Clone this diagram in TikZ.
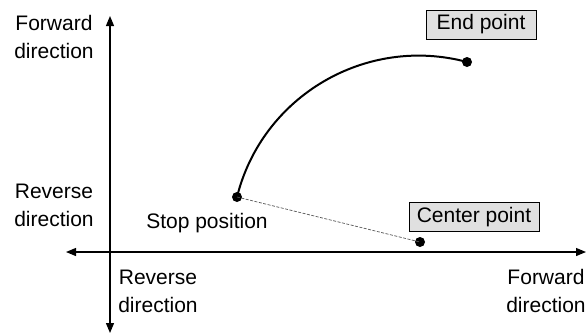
\documentclass[tikz,border=0pt]{standalone}
\usepackage{fontspec}
\setmainfont{Liberation Sans}
\usetikzlibrary{arrows.meta,positioning}
\definecolor{mvBox}{HTML}{E0E0E0}
\definecolor{mvDash}{HTML}{555555}
\tikzset{
    >={Triangle[length=10pt,width=8pt]},
    axis/.style={<->, line width=1.2pt, draw=black},
    lbl/.style={align=center, font=\fontsize{21}{28}\selectfont, inner sep=0pt},
    dot/.style={circle, fill=black, inner sep=0pt, minimum size=10pt},
    tagbox/.style={draw=black, line width=1pt, fill=mvBox, font=\fontsize{21}{24}\selectfont, minimum height=29pt, inner xsep=5pt},
    track/.style={line width=2pt, draw=black},
    radius/.style={line width=0.7pt, dashed, dash pattern=on 3pt off 1.5pt, draw=mvDash}
}
\begin{document}
\begin{tikzpicture}[x=1pt, y=-1pt]
    \useasboundingbox (0,0) rectangle (587,333);
    % axes
    \coordinate (vtop) at (110,16);
    \coordinate (vbot) at (110,333);
    \coordinate (hleft) at (66,252);
    \coordinate (hright) at (586,252);
    \draw[axis] (vbot) -- (vtop);
    \draw[axis] (hleft) -- (hright);
    % direction labels
    \node[lbl] (yfwd) at (54,37) {Forward\\direction};
    \node[lbl] (yrev) at (54,205) {Reverse\\direction};
    \node[lbl] (xrev) at (158,291) {Reverse\\direction};
    \node[lbl] (xfwd) at (546,291) {Forward\\direction};
    % points
    \node[dot] (stop) at (237,197) {};
    \node[dot] (end) at (467,62) {};
    \node[dot] (ctr) at (420,242) {};
    \node[lbl] (stoplbl) at (207,223) {Stop position};
    \node[tagbox, minimum width=110pt] (endlbl) at (481,24.5) {End point};
    \node[tagbox, minimum width=130pt] (ctrlbl) at (474,217) {Center point};
    % circular path and radius
    \draw[track] (stop.center) to[out=76, in=165] (end.center);
    \draw[radius] (stop.center) -- (ctr.center);
\end{tikzpicture}
\end{document}
